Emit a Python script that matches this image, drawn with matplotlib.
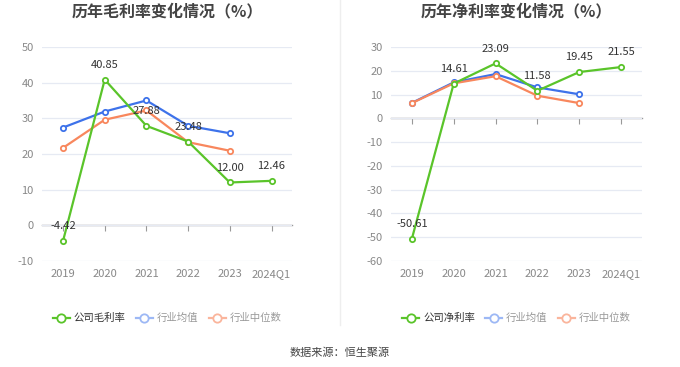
import matplotlib.pyplot as plt
from matplotlib.lines import Line2D

plt.rcParams["font.family"] = ["Noto Sans CJK SC", "DejaVu Sans"]

years = ["2019", "2020", "2021", "2022", "2023", "2024Q1"]

gross_company = [-4.42, 40.85, 27.88, 23.48, 12.00, 12.46]
gross_avg = [27.4, 31.9, 35.0, 27.9, 25.8]
gross_median = [21.7, 29.6, 32.2, 23.3, 20.9]

net_company = [-50.61, 14.61, 23.09, 11.58, 19.45, 21.55]
net_avg = [6.5, 15.1, 18.6, 13.0, 10.1]
net_median = [6.4, 14.7, 17.7, 9.5, 6.4]

green = "#5ac42a"
blue = "#3d72ea"
orange = "#f8875d"

fig = plt.figure(figsize=(6.8, 3.67), dpi=100)


def draw(rect, title, company, avg, median, ylim, yticks, comp_label):
    ax = fig.add_axes(rect)
    x = list(range(len(years)))
    mk = dict(marker="o", markersize=3.8, markerfacecolor="white", markeredgewidth=1.3, linewidth=1.6)
    ax.plot(x[:len(avg)], avg, color=blue, zorder=3, **mk)
    ax.plot(x[:len(median)], median, color=orange, zorder=3, **mk)
    ax.plot(x, company, color=green, zorder=4, **mk)
    for xi, v in zip(x, company):
        ax.annotate(f"{v:.2f}", (xi, v), xytext=(0, 7), textcoords="offset points",
                    ha="center", va="bottom", fontsize=8, color="#333333", zorder=5)
    ax.set_xlim(-0.5, len(years) - 0.5)
    ax.set_ylim(*ylim)
    ax.set_yticks(yticks)
    ax.set_yticklabels([str(t) for t in yticks])
    ax.grid(axis="y", color="#e6eaf3", linewidth=0.9)
    ax.set_axisbelow(True)
    for s in ax.spines.values():
        s.set_visible(False)
    ax.tick_params(axis="y", length=0, labelsize=8, labelcolor="#888888", pad=6)
    ax.set_xticks(x)
    ax.set_xticklabels(years)
    ax.tick_params(axis="x", length=0, labelsize=8, labelcolor="#888888", pad=6)
    # zero line with small ticks
    sec = ax.secondary_xaxis(0, transform=ax.transData)
    sec.set_xticks(x)
    sec.set_xticklabels([])
    sec.tick_params(axis="x", length=4, color="#999999", width=0.8)
    sec.spines["bottom"].set_color("#999999")
    sec.spines["bottom"].set_linewidth(1.0)
    ax.set_title(title, fontsize=11.5, fontweight="bold", color="#444444", pad=22)

    handles = [
        Line2D([], [], color=green, marker="o", markerfacecolor="white", markersize=6, markeredgewidth=1.3, linewidth=1.6),
        Line2D([], [], color="#9db8f5", marker="o", markerfacecolor="white", markersize=6, markeredgewidth=1.3, linewidth=1.6),
        Line2D([], [], color="#fab59c", marker="o", markerfacecolor="white", markersize=6, markeredgewidth=1.3, linewidth=1.6),
    ]
    leg = ax.legend(handles, [comp_label, "行业均值", "行业中位数"], loc="upper center",
                    bbox_to_anchor=(0.5, -0.2), ncol=3, frameon=False, fontsize=7.5,
                    handlelength=1.6, handletextpad=0.4, columnspacing=1.0)
    for t, c in zip(leg.get_texts(), ["#333333", "#999999", "#999999"]):
        t.set_color(c)
    return ax


draw([0.062, 0.289, 0.368, 0.583], "历年毛利率变化情况（%）", gross_company, gross_avg, gross_median,
     (-10, 50), [-10, 0, 10, 20, 30, 40, 50], "公司毛利率")
draw([0.575, 0.289, 0.369, 0.583], "历年净利率变化情况（%）", net_company, net_avg, net_median,
     (-60, 30), [-60, -50, -40, -30, -20, -10, 0, 10, 20, 30], "公司净利率")

fig.add_artist(Line2D([0.5, 0.5], [0.115, 1.0], transform=fig.transFigure, color="#eeeeee", linewidth=1))
fig.text(0.5, 0.04, "数据来源：恒生聚源", ha="center", va="center", fontsize=8, color="#444444")

fig.savefig("out.png", dpi=100)
